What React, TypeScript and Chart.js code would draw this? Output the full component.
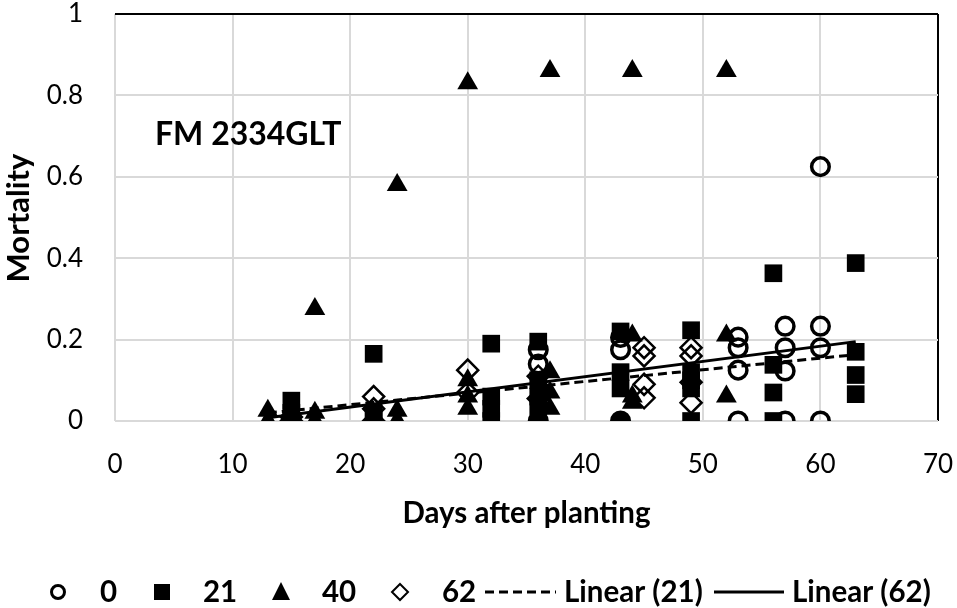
import React, { useEffect, useRef } from "react";
import { Chart, registerables } from "chart.js";

Chart.register(...registerables);

const FONT = "Lato, 'Open Sans', sans-serif";

// days after planting / mortality for each treatment
const days0 = [36, 36, 36, 43, 43, 43, 53, 53, 53, 53, 57, 57, 57, 57, 60, 60, 60, 60];
const mort0 = [0.175, 0.14, 0, 0.205, 0.175, 0, 0.206, 0.18, 0.125, 0, 0.233, 0.18, 0.123, 0, 0.625, 0.233, 0.18, 0];

const days21 = [15, 15, 15, 22, 22, 22, 32, 32, 32, 32, 36, 36, 36, 36, 43, 43, 43, 49, 49, 49, 49, 49, 56, 56, 56, 56, 63, 63, 63, 63];
const mort21 = [0.05, 0.02, 0, 0.165, 0.02, 0, 0.19, 0.06, 0.03, 0, 0.195, 0.1, 0.06, 0.035, 0.22, 0.12, 0.08, 0.223, 0.12, 0.1, 0.08, 0, 0.363, 0.138, 0.07, 0, 0.388, 0.17, 0.113, 0.066];

const days40 = [13, 13, 17, 17, 17, 22, 24, 24, 24, 30, 30, 30, 30, 37, 37, 37, 37, 44, 44, 44, 44, 52, 52, 52];
const mort40 = [0.025, 0, 0.275, 0.02, 0, 0.01, 0.58, 0.025, 0, 0.83, 0.1, 0.06, 0.03, 0.86, 0.12, 0.07, 0.03, 0.86, 0.21, 0.06, 0.045, 0.86, 0.21, 0.06];

const days62 = [15, 15, 22, 22, 22, 30, 30, 36, 36, 45, 45, 45, 45, 49, 49, 49, 49];
const mort62 = [0.01, 0, 0.06, 0.03, 0, 0.125, 0.07, 0.11, 0.055, 0.18, 0.16, 0.09, 0.057, 0.18, 0.16, 0.095, 0.045];

// trendline ends
const trendDays = [13, 63];
const trend21 = [0.02, 0.163];
const trend62 = [0.008, 0.195];

const xTicks = [0, 10, 20, 30, 40, 50, 60, 70];
const yTicks = [0, 0.2, 0.4, 0.6, 0.8, 1];

const pts = (xs: number[], ys: number[]) => xs.map((x, i) => ({ x, y: ys[i] }));

const noScalePadding = (scale: any) => {
  scale.paddingLeft = 0;
  scale.paddingRight = 0;
  scale.paddingTop = 0;
  scale.paddingBottom = 0;
};

const overlay = {
  id: "overlay",
  afterDraw(chart: Chart) {
    const ctx = chart.ctx;
    const area = chart.chartArea;
    ctx.save();
    ctx.fillStyle = "#000";
    ctx.strokeStyle = "#000";

    // panel label
    ctx.font = `bold 32px ${FONT}`;
    ctx.textAlign = "left";
    ctx.textBaseline = "middle";
    ctx.fillText("FM 2334GLT", area.left + 40, 135);

    // axis titles
    ctx.font = `bold 29.5px ${FONT}`;
    ctx.textAlign = "center";
    ctx.fillText("Days after planting", (area.left + area.right) / 2, 513);
    ctx.save();
    ctx.translate(19, 218);
    ctx.rotate(-Math.PI / 2);
    ctx.font = `bold 31px ${FONT}`;
    ctx.fillText("Mortality", 0, 0);
    ctx.restore();

    // legend
    const ly = 592;
    ctx.font = `bold 29.5px ${FONT}`;
    ctx.textAlign = "left";

    ctx.lineWidth = 3;
    ctx.beginPath();
    ctx.arc(58, ly, 6.5, 0, Math.PI * 2);
    ctx.stroke();
    ctx.fillText("0", 100, ly);

    ctx.fillRect(154, ly - 8, 16, 16);
    ctx.fillText("21", 203, ly);

    ctx.beginPath();
    ctx.moveTo(281, ly - 10);
    ctx.lineTo(290, ly + 8);
    ctx.lineTo(272, ly + 8);
    ctx.closePath();
    ctx.fill();
    ctx.fillText("40", 322, ly);

    ctx.lineWidth = 2;
    ctx.beginPath();
    ctx.moveTo(400, ly - 8);
    ctx.lineTo(408, ly);
    ctx.lineTo(400, ly + 8);
    ctx.lineTo(392, ly);
    ctx.closePath();
    ctx.stroke();
    ctx.fillText("62", 442, ly);

    ctx.lineWidth = 3;
    ctx.setLineDash([9, 5]);
    ctx.beginPath();
    ctx.moveTo(485, ly);
    ctx.lineTo(556, ly);
    ctx.stroke();
    ctx.setLineDash([]);
    ctx.fillText("Linear (21)", 564, ly);

    ctx.beginPath();
    ctx.moveTo(714, ly);
    ctx.lineTo(784, ly);
    ctx.stroke();
    ctx.fillText("Linear (62)", 792, ly);

    ctx.restore();
  },
};

export default function App() {
  const chartRef = useRef<HTMLCanvasElement | null>(null);

  useEffect(() => {
    document.body.style.margin = "0";
    if (!chartRef.current) {
      return;
    }
    const chartInstance = new Chart(chartRef.current, {
      type: "scatter",
      data: {
        datasets: [
          {
            label: "Linear (21)",
            type: "line",
            data: pts(trendDays, trend21),
            borderColor: "#000",
            borderWidth: 3,
            borderDash: [9, 5],
            pointRadius: 0,
            fill: false,
            order: 1,
          },
          {
            label: "Linear (62)",
            type: "line",
            data: pts(trendDays, trend62),
            borderColor: "#000",
            borderWidth: 3,
            pointRadius: 0,
            fill: false,
            order: 1,
          },
          {
            label: "62",
            data: pts(days62, mort62),
            pointStyle: "rectRot",
            pointRadius: 10.5,
            borderWidth: 2.5,
            borderColor: "#000",
            backgroundColor: "rgba(0,0,0,0)",
            order: 2,
          },
          {
            label: "40",
            data: pts(days40, mort40),
            pointStyle: "triangle",
            pointRadius: 12,
            borderWidth: 0,
            borderColor: "#000",
            backgroundColor: "#000",
            order: 3,
          },
          {
            label: "21",
            data: pts(days21, mort21),
            pointStyle: "rect",
            pointRadius: 12.5,
            borderWidth: 0,
            borderColor: "#000",
            backgroundColor: "#000",
            order: 4,
          },
          {
            label: "0",
            data: pts(days0, mort0),
            pointStyle: "circle",
            pointRadius: 8.8,
            borderWidth: 3.5,
            borderColor: "#000",
            // overlapping markers at zero read as solid blobs early on
            backgroundColor: (c: any) =>
              c.raw && c.raw.y === 0 && c.raw.x < 50 ? "#000" : "rgba(0,0,0,0)",
            order: 5,
          },
        ],
      },
      options: {
        animation: false,
        responsive: true,
        maintainAspectRatio: false,
        layout: { padding: { top: 14, right: 19, left: 0, bottom: 0 } },
        plugins: {
          legend: { display: false },
          tooltip: { enabled: false },
        },
        scales: {
          x: {
            type: "linear",
            min: 0,
            max: 70,
            afterFit: (scale: any) => {
              scale.height = 187;
              noScalePadding(scale);
            },
            afterBuildTicks: (scale: any) => {
              scale.ticks = xTicks.map((v) => ({ value: v }));
            },
            ticks: {
              color: "#000",
              padding: 28,
              maxRotation: 0,
              font: { family: FONT, size: 26 },
            },
            grid: {
              drawTicks: false,
              lineWidth: 2,
              color: (c: any) => (c.tick && c.tick.value === 70 ? "#000" : "#d9d9d9"),
            },
            border: { display: false },
          },
          y: {
            min: 0,
            max: 1,
            afterFit: (scale: any) => {
              scale.width = 115;
              noScalePadding(scale);
            },
            afterBuildTicks: (scale: any) => {
              scale.ticks = yTicks.map((v) => ({ value: v }));
            },
            ticks: {
              color: "#000",
              padding: 32,
              font: { family: FONT, size: 26 },
              callback: (v: any) => String(Math.round(Number(v) * 10) / 10),
            },
            grid: {
              drawTicks: false,
              lineWidth: 2,
              color: (c: any) => (c.tick && c.tick.value === 1 ? "#000" : "#d9d9d9"),
            },
            border: { display: false },
          },
        },
      },
      plugins: [overlay],
    } as any);
    return () => {
      chartInstance.destroy();
    };
  }, [chartRef]);

  return (
    <div style={{ position: "relative", width: 957, height: 608 }}>
      <canvas ref={chartRef}></canvas>
    </div>
  );
}
